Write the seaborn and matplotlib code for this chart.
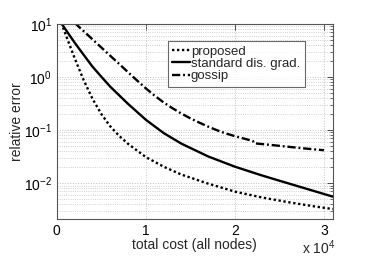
import matplotlib
matplotlib.use("Agg")
import matplotlib.pyplot as plt
import matplotlib.ticker as mticker
import numpy as np
import seaborn as sns

# values (cost in raw units, error on log scale)
cost_proposed = [500, 1000, 2000, 3000, 4000, 5000, 6000, 7000, 8000, 10000,
                 12000, 14000, 17000, 20000, 23000, 26000, 29000, 31000]
err_proposed = [10.5, 6.24, 2.26, 0.881, 0.389, 0.200, 0.1175, 0.0776, 0.0550, 0.0309,
                0.0204, 0.01445, 0.00977, 0.00692, 0.00537, 0.00437, 0.00363, 0.00324]

cost_standard = [500, 1000, 2000, 3000, 4000, 5000, 6000, 8000, 10000, 12000,
                 14000, 17000, 20000, 23000, 26000, 29000, 31000]
err_standard = [10.35, 7.76, 4.44, 2.63, 1.57, 1.01, 0.656, 0.311, 0.156, 0.0877,
                0.0553, 0.0318, 0.0204, 0.0140, 0.00989, 0.0070, 0.00556]

cost_gossip = [2000, 3000, 4000, 5000, 6000, 7000, 8000, 9000, 10000, 11000, 12000,
               13000, 14000, 15000, 16000, 17000, 18000, 19000, 20000, 21000, 22000,
               22200, 24000, 26000, 28000, 30000]
err_gossip = [10.47, 7.33, 5.13, 3.59, 2.51, 1.76, 1.23, 0.861, 0.610, 0.442, 0.331,
              0.257, 0.204, 0.166, 0.138, 0.116, 0.0989, 0.0861, 0.0767, 0.0692, 0.0624,
              0.0562, 0.0525, 0.0484, 0.0447, 0.0417]

labels = ["proposed", "standard dis. grad.", "gossip"]
x_ticks = [0, 10000, 20000, 30000]

sns.set_style("white")
plt.rcParams['font.family'] = ['Liberation Sans', 'DejaVu Sans']
plt.rcParams['mathtext.fontset'] = 'custom'
plt.rcParams['mathtext.rm'] = 'Liberation Sans'

fig = plt.figure(figsize=(3.74, 2.63), dpi=100)
ax = fig.add_axes([0.152, 0.167, 0.738, 0.742])

sns.lineplot(x=cost_proposed, y=err_proposed, ax=ax, color='k', lw=1.7,
             linestyle=(0, (1, 1.1)), label=labels[0])
sns.lineplot(x=cost_standard, y=err_standard, ax=ax, color='k', lw=1.7,
             linestyle='-', label=labels[1])
sns.lineplot(x=cost_gossip, y=err_gossip, ax=ax, color='k', lw=1.7,
             linestyle=(0, (3.5, 1.2, 0.8, 1.2)), label=labels[2])

ax.set_yscale('log')
ax.set_xlim(0, 31000)
ax.set_ylim(2.1e-3, 10)
ax.set_xticks(x_ticks)
ax.xaxis.set_major_formatter(mticker.FuncFormatter(lambda v, p: '%d' % round(v / 1e4)))
ax.yaxis.set_major_locator(mticker.LogLocator(base=10, numticks=10))
ax.yaxis.set_minor_locator(mticker.LogLocator(base=10, subs=np.arange(2, 10), numticks=20))
ax.yaxis.set_minor_formatter(mticker.NullFormatter())

ax.tick_params(which='both', direction='in', top=True, right=True, colors='#333333',
               labelcolor='k', labelsize=10)
ax.tick_params(which='major', length=4, width=0.6)
ax.tick_params(which='minor', length=2, width=0.5)

ax.grid(True, which='major', axis='both', color='#c0c0c0', linestyle=':', lw=0.7)
ax.grid(True, which='minor', axis='y', color='#c0c0c0', linestyle=':', lw=0.6)
for s in ax.spines.values():
    s.set_color('#555555')
    s.set_linewidth(0.8)

ax.set_xlabel('total cost (all nodes)', fontsize=10, labelpad=0)
ax.set_ylabel('relative error', fontsize=10, labelpad=0)
# exponent note under the right end of the x axis
ax.text(0.948, -0.145, 'x 10$^4$', transform=ax.transAxes, ha='center', va='center',
        fontsize=10)

leg = ax.legend(loc='upper left', bbox_to_anchor=(0.402, 0.913), fontsize=9.5,
                frameon=True, fancybox=False, handlelength=1.3, handletextpad=0.1,
                borderpad=0.35, labelspacing=0.0, borderaxespad=0)
leg.get_frame().set_edgecolor('#444444')
leg.get_frame().set_linewidth(0.8)

fig.savefig('out.png', dpi=100)
